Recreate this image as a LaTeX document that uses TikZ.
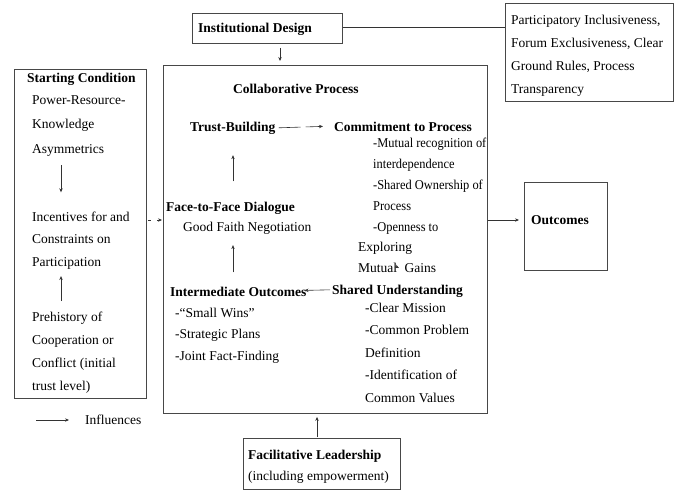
\documentclass[tikz,border=0pt]{standalone}
\usepackage{fontspec}
\setmainfont{Liberation Serif}
\usetikzlibrary{arrows.meta,calc}
\begin{document}
\begin{tikzpicture}[x=1pt,y=-1pt,
  box/.style={draw=black!72, line width=0.9pt, inner sep=0pt, anchor=north west},
  txt/.style={inner sep=0pt, anchor=base west, align=left, font=\fontsize{13.5}{22.5}\selectfont},
  hd/.style={inner sep=0pt, anchor=base west, align=left, font=\fontsize{13.5}{22.5}\selectfont\bfseries},
  arr/.style={-{Stealth[length=4pt,width=3.4pt]}, line width=0.6pt, draw=black!80},
  arrdash/.style={arr, dash pattern=on 22pt off 5pt},
  arrdot/.style={arr, dash pattern=on 3pt off 6pt}]
\useasboundingbox (0,0) rectangle (681,491);

% boxes
\node[box, minimum width=150pt, minimum height=30pt] (id) at (192,13) {};
\node[box, minimum width=168pt, minimum height=98pt] (pi) at (505,3) {};
\node[box, minimum width=132pt, minimum height=329pt] (sc) at (14,69) {};
\node[box, minimum width=324pt, minimum height=348pt] (cp) at (163,65) {};
\node[box, minimum width=83pt, minimum height=88pt] (oc) at (524,182) {};
\node[box, minimum width=157pt, minimum height=51pt] (fl) at (243,438) {};

% top texts (multi-line nodes are placed by the baseline of their last line)
\node[hd] (idT) at (198,32) {Institutional Design};
\node[txt, font=\fontsize{13.5}{22.7}\selectfont] (piT) at (511,93)
  {Participatory Inclusiveness,\\Forum Exclusiveness, Clear\\Ground Rules, Process\\Transparency};

% starting condition
\node[hd] (scT) at (27,82) {Starting Condition};
\node[txt, font=\fontsize{13.5}{24.5}\selectfont] (pr) at (32,153) {Power-Resource-\\Knowledge\\Asymmetrics};
\node[txt, font=\fontsize{13.5}{22.5}\selectfont] (inc) at (32,266) {Incentives for and\\Constraints on\\Participation};
\node[txt, font=\fontsize{13.5}{22.7}\selectfont] (pre) at (32,390) {Prehistory of\\Cooperation or\\Conflict (initial\\trust level)};
\coordinate (lx) at (61,0);
\draw[arr] ($(pr.south -| lx)+(0,9)$) -- ($(inc.north -| lx)+(0,-19)$);
\draw[arr] ($(pre.north -| lx)+(0,-11)$) -- ($(inc.south -| lx)+(0,7)$);

% collaborative process
\node[hd] (cpT) at (233,93) {Collaborative Process};
\node[hd] (tb) at (190,131) {Trust-Building};
\node[hd] (cm) at (334,131) {Commitment to Process};
\node[txt, font=\fontsize{13.5}{21}\selectfont\addfontfeatures{FakeStretch=0.92}] (cmi) at (373,231)
  {-Mutual recognition of\\interdependence\\-Shared Ownership of\\Process\\-Openness to};
\node[txt, font=\fontsize{13.5}{20.8}\selectfont] (cmi2) at (358,272)
  {Exploring\\Mutual\hspace{4pt} Gains};
\node[hd] (fd) at (166,211) {Face-to-Face Dialogue};
\node[txt] (gf) at (183,231) {Good Faith Negotiation};
\node[hd] (io) at (170,296) {Intermediate Outcomes};
\node[txt, font=\fontsize{13.5}{21.5}\selectfont] (ioi) at (175,360)
  {-“Small Wins”\\-Strategic Plans\\-Joint Fact-Finding};
\node[hd] (su) at (332,294) {Shared Understanding};
\node[txt, font=\fontsize{13.5}{22.5}\selectfont] (sui) at (365,402)
  {-Clear Mission\\-Common Problem\\Definition\\-Identification of\\Common Values};

\coordinate (cx) at (233,0);
\draw[arrdash] ($(tb.east)+(3,0)$) -- ($(cm.west)+(-11,0)$);
\draw[arr] ($(fd.north -| cx)+(0,-20)$) -- ($(tb.south -| cx)+(0,21)$);
\draw[arr] ($(io.north -| cx)+(0,-14)$) -- ($(gf.south -| cx)+(0,11)$);
\draw[arr] ($(su.west)+(-2,-1)$) -- ($(io.east)+(-2,-1)$);
\coordinate (mgA) at (395,266);
\coordinate (mgB) at (399,268);
\draw[arr] (mgA) -- (mgB);

% outer connectors
\coordinate (my) at (0,220);
\draw[arrdot] ($(sc.east |- my)+(1,0)$) -- ($(cp.west |- my)+(-1,0)$);
\draw[arr] ($(cp.east |- my)$) -- ($(oc.west |- my)+(-5,0)$);
\coordinate (ix) at (280,0);
\draw[arr] ($(id.south -| ix)+(0,4)$) -- ($(cp.north -| ix)+(0,-4)$);
\coordinate (fx) at (317,0);
\draw[arr] ($(fl.north -| fx)+(0,-1)$) -- ($(cp.south -| fx)+(0,3)$);
\draw[line width=0.6pt, draw=black!80] ($(id.east)+(0,-1)$) -- ($(pi.west |- id.east)+(0,-1)$);

% outcomes and facilitative
\node[hd] (ocT) at (531,224) {Outcomes};
\node[hd] (flT) at (248,459) {Facilitative Leadership};
\node[txt] (flS) at (248,480) {(including empowerment)};

% legend
\node[txt] (inf) at (85,424) {Influences};
\coordinate (lg) at (36,420);
\draw[arr] (lg) -- ($(inf.west |- lg)+(-16,0)$);
\end{tikzpicture}
\end{document}
